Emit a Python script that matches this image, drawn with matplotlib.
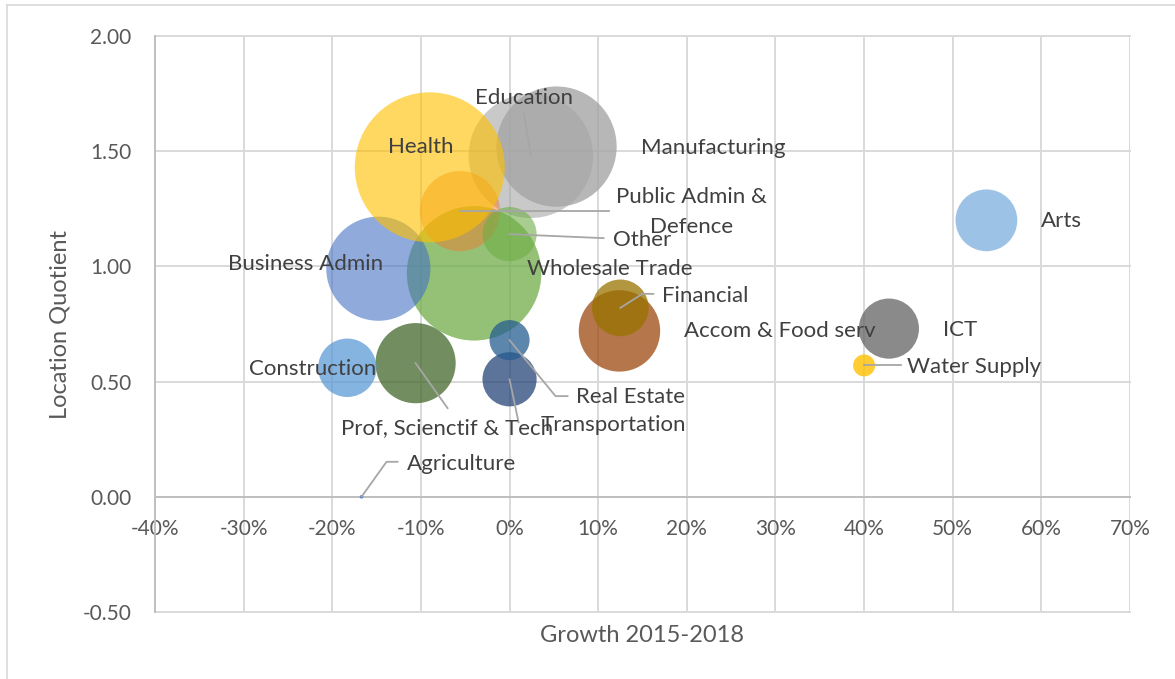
import matplotlib
matplotlib.use("Agg")
import matplotlib.pyplot as plt
import matplotlib.transforms as mtrans
from matplotlib.lines import Line2D
from matplotlib.ticker import FixedLocator, FuncFormatter
import numpy as np

# ---- data -------------------------------------------------------------
sectors = ["Wholesale Trade", "Education", "Manufacturing", "Business Admin",
           "Public Admin &\nDefence", "Health", "Prof, Scienctif & Tech",
           "Accom & Food serv", "Arts", "ICT", "Construction", "Financial",
           "Other", "Transportation", "Real Estate", "Water Supply", "Agriculture"]
growth = [-0.040, 0.024, 0.053, -0.148, -0.056, -0.090, -0.106,
          0.124, 0.538, 0.428, -0.183, 0.125, 0.000, 0.000, 0.000, 0.400, -0.167]
location_quotient = [0.97, 1.48, 1.52, 0.99, 1.24, 1.43, 0.58,
                     0.72, 1.20, 0.73, 0.56, 0.82, 1.14, 0.51, 0.68, 0.57, 0.00]
employment = [4500, 3850, 3600, 2700, 1600, 5600, 1600,
              1650, 950, 900, 850, 800, 730, 730, 400, 120, 3]

x_ticks = [-0.4, -0.3, -0.2, -0.1, 0.0, 0.1, 0.2, 0.3, 0.4, 0.5, 0.6, 0.7]
y_ticks = [-0.5, 0.0, 0.5, 1.0, 1.5, 2.0]

# ---- styling ----------------------------------------------------------
colors = ["#70AD47", "#A5A5A5", "#A5A5A5", "#4472C4", "#ED7D31", "#FFC000",
          "#43682B", "#9E480E", "#5B9BD5", "#636363", "#5B9BD5", "#997300",
          "#70AD47", "#264478", "#255E91", "#FFC000", "#4472C4"]
alphas = [0.75, 0.6, 0.8, 0.6, 0.5, 0.62, 0.75, 0.75, 0.6, 0.75, 0.75, 0.75,
          0.6, 0.75, 0.75, 0.8, 1.0]

# label placement: offset (px) from bubble centre, alignment, leader path
label_pos = {
    "Wholesale Trade": ((53, 4), "left", None),
    "Education": ((-7, 58), "center", [(0, 0), (-7, 42)]),
    "Manufacturing": ((84, -1), "left", None),
    "Business Admin": ((-73, 5), "center", None),
    "Public Admin &\nDefence": ((232, -1), "center", [(0, 0), (149, 0)]),
    "Health": ((-9, 20), "center", None),
    "Prof, Scienctif & Tech": ((31, -65), "center", [(0, 0), (32, -45)]),
    "Accom & Food serv": ((65, 0), "left", None),
    "Arts": ((55, -1), "left", None),
    "ICT": ((54, -1), "left", None),
    "Construction": ((-35, -1), "center", None),
    "Financial": ((42, 12), "left", [(0, 0), (22, 14), (33, 14)]),
    "Other": ((103, -6), "left", [(0, 0), (94, -4)]),
    "Transportation": ((31, -46), "left", [(0, 0), (9, -43)]),
    "Real Estate": ((66, -57), "left", [(0, 0), (46, -56), (58, -56)]),
    "Water Supply": ((43, -2), "left", [(0, 0), (37, 0)]),
    "Agriculture": ((45, 33), "left", [(0, 0), (25, 35), (36, 35)]),
}

FONT = "Lato"
TEXT = "#404040"
TICK = "#595959"
GRID = "#D9D9D9"
DPI = 100
W, H = 1175, 679

fig = plt.figure(figsize=(W / DPI, H / DPI), dpi=DPI)
ax = fig.add_axes([155 / W, 1 - 612 / H, (1130 - 155) / W, (612 - 36) / H])
ax.set_xlim(x_ticks[0], x_ticks[-1])
ax.set_ylim(y_ticks[0], y_ticks[-1])

# bubble area proportional to employment; largest bubble 75 px radius
emp = np.array(employment, dtype=float)
radius_px = 75 * np.sqrt(emp / emp.max())
sizes = (2 * radius_px * 72 / DPI) ** 2

for i in range(len(sectors)):
    ax.scatter(growth[i], location_quotient[i], s=sizes[i], color=colors[i],
               alpha=alphas[i], edgecolors="none", zorder=3 + i * 0.01)

# labels and leader lines
for i, name in enumerate(sectors):
    (dx, dy), ha, path = label_pos[name]
    tr = mtrans.offset_copy(ax.transData, fig=fig, x=dx, y=dy, units="dots")
    ax.text(growth[i], location_quotient[i], name, transform=tr, ha=ha,
            va="center", fontsize=16, family=FONT, color=TEXT,
            linespacing=1.6, zorder=10)
    if path:
        pts = ax.transData.transform((growth[i], location_quotient[i]))
        xs = [pts[0] + p[0] for p in path]
        ys = [pts[1] + p[1] for p in path]
        ax.add_line(Line2D(xs, ys, transform=None, color="#A6A6A6",
                           lw=1.3, zorder=9))

# axes, grid, ticks
ax.xaxis.set_major_locator(FixedLocator(x_ticks))
ax.yaxis.set_major_locator(FixedLocator(y_ticks))
ax.xaxis.set_major_formatter(FuncFormatter(lambda v, p: f"{v * 100:.0f}%"))
ax.yaxis.set_major_formatter(FuncFormatter(lambda v, p: f"{v:.2f}"))
ax.grid(True, color=GRID, lw=1.4, zorder=0)
for gl in ax.get_xgridlines() + ax.get_ygridlines():
    gl.set_clip_on(False)
ax.set_axisbelow(True)

for side in ("top", "right"):
    ax.spines[side].set_visible(False)
ax.spines["bottom"].set_position(("data", 0))
ax.spines["bottom"].set_color("#BFBFBF")
ax.spines["left"].set_color("#BFBFBF")
ax.spines["bottom"].set_linewidth(1.4)
ax.spines["left"].set_linewidth(1.4)

ax.tick_params(axis="x", length=0, pad=16, labelsize=15, labelcolor=TICK)
ax.tick_params(axis="y", length=0, pad=17, labelsize=15, labelcolor=TICK)
for lab in ax.get_xticklabels() + ax.get_yticklabels():
    lab.set_family(FONT)

fig.text(642 / W, 1 - 635 / H, "Growth 2015-2018", ha="center", va="center",
         fontsize=17, family=FONT, color=TICK)
fig.text(60 / W, 1 - 324 / H, "Location Quotient", ha="center", va="center",
         rotation=90, fontsize=17, family=FONT, color=TICK)

# chart-area frame
fig.add_artist(Line2D([7 / W, 1], [1 - 5 / H, 1 - 5 / H], transform=fig.transFigure,
                      color=GRID, lw=1.2))
fig.add_artist(Line2D([7 / W, 7 / W], [0, 1 - 5 / H], transform=fig.transFigure,
                      color=GRID, lw=1.2))

fig.savefig("out.png", dpi=DPI, facecolor="white")
